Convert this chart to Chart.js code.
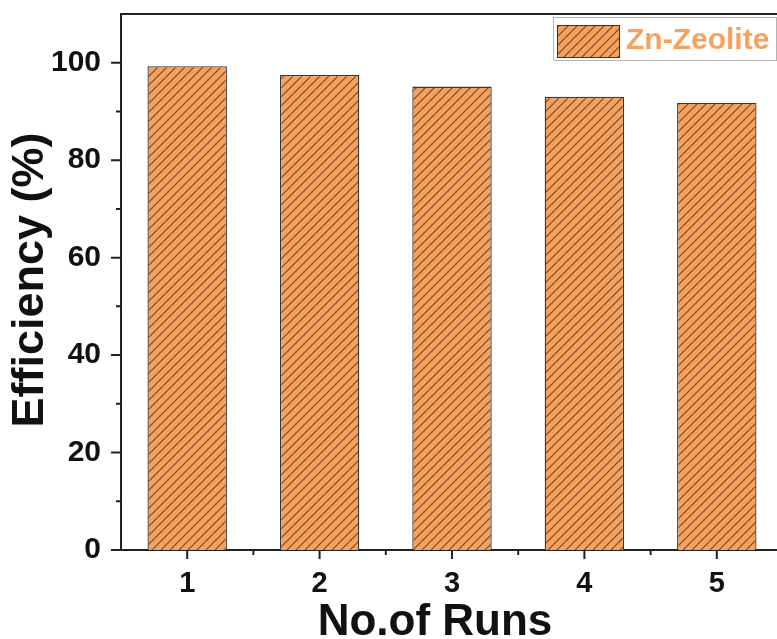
<!DOCTYPE html>
<html>
<head>
<meta charset="utf-8">
<script src="https://cdn.jsdelivr.net/npm/chart.js@4/dist/chart.umd.min.js"></script>
<style>
html,body{margin:0;padding:0;background:#fff;overflow:hidden;width:777px;height:639px;}
#wrap{width:785px;height:639px;position:relative;}
</style>
</head>
<body>
<div id="wrap"><canvas id="c" width="785" height="639"></canvas></div>
<script>
const categories = ['1', '2', '3', '4', '5'];
const efficiency = [99.3, 97.5, 95.1, 93.0, 91.8];
const seriesLabel = 'Zn-Zeolite';
const xTitle = 'No.of Runs';
const yTitle = 'Efficiency (%)';
const yMajorTicks = [0, 20, 40, 60, 80, 100];
const yMinorTicks = [10, 30, 50, 70, 90];
const yMin = 0, yMax = 110;

const FONT = '"Liberation Sans", Arial, sans-serif';
const FILL = '#F6A25E';
const HATCH = 'rgba(85,50,25,0.8)';
const AXIS = '#222';

function makePattern() {
  const s = 9;
  const pc = document.createElement('canvas');
  pc.width = s; pc.height = s;
  const g = pc.getContext('2d');
  g.fillStyle = FILL;
  g.fillRect(0, 0, s, s);
  g.strokeStyle = HATCH;
  g.lineWidth = 1.15;
  g.beginPath();
  g.moveTo(-1, s + 1); g.lineTo(s + 1, -1);
  g.moveTo(-1, 1); g.lineTo(1, -1);
  g.moveTo(s - 1, s + 1); g.lineTo(s + 1, s - 1);
  g.stroke();
  return document.getElementById('c').getContext('2d').createPattern(pc, 'repeat');
}
const pattern = makePattern();

const decor = {
  id: 'decor',
  afterDraw(chart) {
    const ctx = chart.ctx;
    const ca = chart.chartArea;
    const y = chart.scales.y, x = chart.scales.x;
    ctx.save();
    ctx.strokeStyle = AXIS;
    ctx.lineWidth = 2;
    // top frame line
    ctx.beginPath();
    ctx.moveTo(ca.left - 1, ca.top);
    ctx.lineTo(ca.right + 2, ca.top);
    ctx.stroke();
    // y ticks
    ctx.beginPath();
    yMajorTicks.forEach(v => { const p = y.getPixelForValue(v); ctx.moveTo(ca.left - 10, p); ctx.lineTo(ca.left, p); });
    yMinorTicks.forEach(v => { const p = y.getPixelForValue(v); ctx.moveTo(ca.left - 5, p); ctx.lineTo(ca.left, p); });
    // x ticks
    categories.forEach((c, i) => {
      const p = x.getPixelForValue(i);
      ctx.moveTo(p, ca.bottom); ctx.lineTo(p, ca.bottom + 9);
      if (i < categories.length - 1) {
        const m = (p + x.getPixelForValue(i + 1)) / 2;
        ctx.moveTo(m, ca.bottom); ctx.lineTo(m, ca.bottom + 5);
      }
    });
    ctx.stroke();
    // axis titles
    ctx.fillStyle = '#111';
    ctx.font = 'bold 44px ' + FONT;
    ctx.textAlign = 'center';
    ctx.textBaseline = 'alphabetic';
    ctx.fillText(xTitle, ca.left + 314, ca.bottom + 85);
    ctx.save();
    ctx.translate(ca.left - 78, ca.top + 266);
    ctx.rotate(-Math.PI / 2);
    ctx.font = 'bold 45px ' + FONT;
    ctx.fillText(yTitle, 0, 0);
    ctx.restore();
    // legend
    const lx = ca.right - 230, ly = ca.top + 3, lw = 223, lh = 43;
    ctx.lineWidth = 1;
    ctx.strokeStyle = '#b5b5b5';
    ctx.fillStyle = '#fff';
    ctx.fillRect(lx, ly, lw, lh);
    ctx.strokeRect(lx + 0.5, ly + 0.5, lw, lh);
    ctx.fillStyle = pattern;
    ctx.fillRect(lx + 4, ly + 8, 62, 32);
    ctx.strokeStyle = '#333';
    ctx.strokeRect(lx + 4.5, ly + 8.5, 62, 32);
    ctx.fillStyle = FILL;
    ctx.font = 'bold 30px ' + FONT;
    ctx.textAlign = 'left';
    ctx.fillText(chart.data.datasets[0].label, lx + 73, ly + 32);
    ctx.restore();
  }
};

new Chart(document.getElementById('c'), {
  type: 'bar',
  data: {
    labels: categories,
    datasets: [{
      label: seriesLabel,
      data: efficiency,
      backgroundColor: pattern,
      borderColor: '#383838',
      borderWidth: 1.3,
      barPercentage: 0.6,
      categoryPercentage: 1.0
    }]
  },
  options: {
    responsive: false,
    animation: false,
    devicePixelRatio: 1,
    layout: { padding: { top: 14, right: 2, left: 0, bottom: 0 } },
    plugins: { legend: { display: false }, tooltip: { enabled: false } },
    scales: {
      x: {
        type: 'category',
        offset: true,
        grid: { display: false, drawTicks: false },
        border: { display: true, color: AXIS, width: 2 },
        ticks: { color: '#111', font: { family: FONT, size: 29, weight: 'bold' }, padding: 17, maxRotation: 0 },
        afterFit(s) { s.height = 89; s.paddingLeft = 0; s.paddingRight = 0; }
      },
      y: {
        min: yMin, max: yMax,
        grid: { display: false, drawTicks: false },
        border: { display: true, color: AXIS, width: 2 },
        ticks: {
          stepSize: 20,
          color: '#111',
          font: { family: FONT, size: 30, weight: 'bold' },
          padding: 20,
          callback: v => (yMajorTicks.includes(v) ? String(v) : '')
        },
        afterFit(s) { s.width = 121; s.paddingTop = 0; s.paddingBottom = 0; }
      }
    }
  },
  plugins: [decor]
});
</script>
</body>
</html>
